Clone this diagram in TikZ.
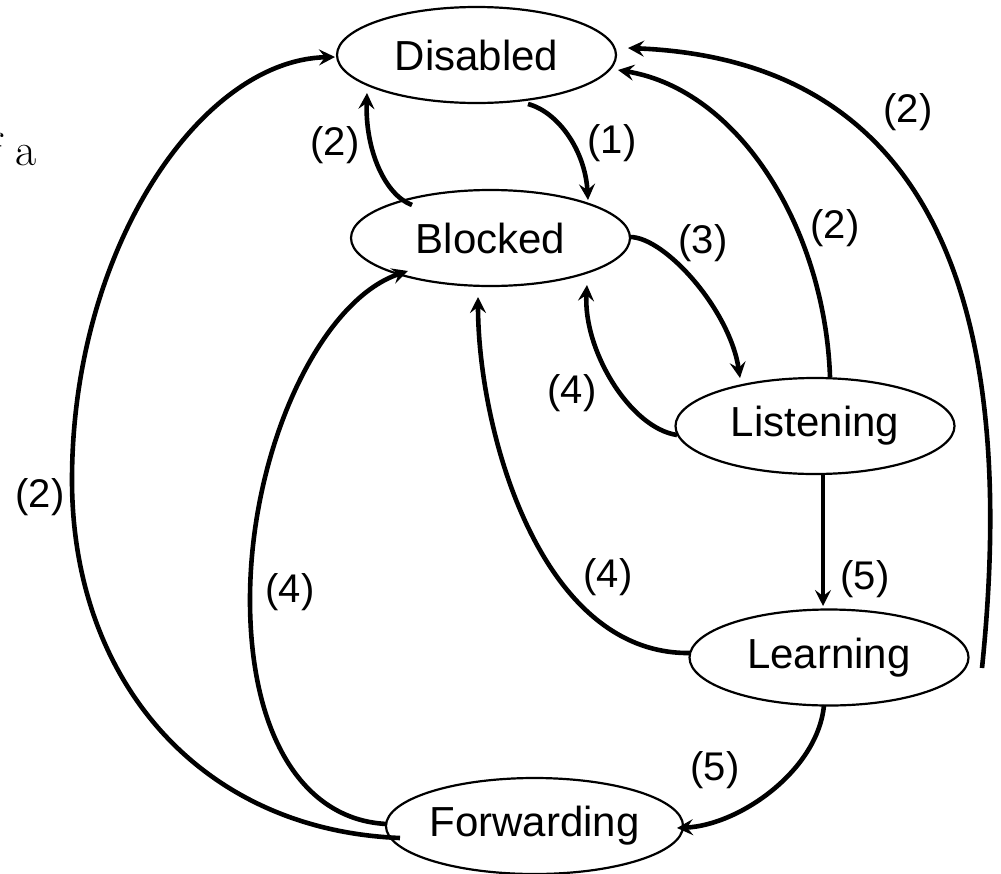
\documentclass[tikz,border=0pt]{standalone}
\usepackage{fontspec}
\newfontfamily\arial{Liberation Sans}
\usetikzlibrary{shapes.geometric,arrows.meta,calc}
\begin{document}
\begin{tikzpicture}[x=1pt,y=-1pt,
  state/.style={ellipse,draw,line width=2.2pt,minimum width=279pt,minimum height=96pt,
    inner sep=0pt,font=\arial\fontsize{42}{50}\selectfont},
  trans/.style={line width=4.6pt,-{Stealth[length=16pt,width=16pt,inset=6pt]}},
  lbl/.style={font=\arial\fontsize{40}{48}\selectfont,inner sep=0pt}]
\useasboundingbox (0,0) rectangle (1001,873);
\clip (0,0) rectangle (1001,873);

% running text at the left margin
\node[anchor=base east,inner sep=0pt,font=\fontsize{46}{55}\selectfont] (frag) at (37,165) {of a};

% port states
\node[state] (dis) at (476.5,55) {Disabled};
\node[state] (blk) at (490.5,238) {Blocked};
\node[state] (lis) at (815,426) {Listening};
\node[state] (lea) at (829,657.5) {Learning};
\node[state] (fwd) at (534.5,826) {Forwarding};

% transitions
\draw[trans] ($(dis)+(51.5,49)$) .. controls (558,112) and (585,150) .. ($(blk)+(97.5,-38)$);
\draw[trans] ($(blk)+(-78.5,-33)$) .. controls (385,195) and (365,150) .. ($(dis)+(-109.5,38)$);
\draw[trans] ($(blk)+(139.5,-1)$) .. controls (665,237) and (730,310) .. ($(lis)+(-75,-48)$);
\draw[trans] ($(lis)+(-138,9)$) .. controls (630,428) and (583,350) .. ($(blk)+(96.5,47)$);
\draw[trans] ($(lis)+(15,-49)$) .. controls (825,230) and (740,90) .. ($(dis)+(141.5,15)$);
\draw[trans] ($(lea)+(153,10.5)$) .. controls (1020,300) and (930,60) .. ($(dis)+(151.5,-7)$);
\draw[trans,line width=3.6pt] ($(lis)+(8,49)$) -- ($(lea)+(-6,-51.5)$);
\draw[trans] ($(lea)+(-139,-4.5)$) .. controls (540,655) and (478,430) .. ($(blk)+(-12.5,59)$);
\draw[trans] ($(lea)+(-5,47.5)$) .. controls (818,770) and (740,825) .. ($(fwd)+(142.5,2)$);
\draw[trans] ($(fwd)+(-134.5,12)$) .. controls (200,830) and (72,680) .. (72,480)
  .. controls (72,250) and (200,60) .. ($(dis)+(-141.5,2)$);
\draw[trans] ($(fwd)+(-147.5,-2)$) .. controls (300,820) and (250,730) .. (250,600)
  .. controls (250,450) and (320,300) .. ($(blk)+(-82.5,33)$);

% transition labels
\node[lbl] (t1) at (612,143) {(1)};
\node[lbl] (t2a) at (335,145) {(2)};
\node[lbl] (t2b) at (835,228) {(2)};
\node[lbl] (t2c) at (908,112) {(2)};
\node[lbl] (t2d) at (40,497) {(2)};
\node[lbl] (t3) at (703,243) {(3)};
\node[lbl] (t4a) at (572,393) {(4)};
\node[lbl] (t4b) at (608,577) {(4)};
\node[lbl] (t4c) at (290,592) {(4)};
\node[lbl] (t5a) at (865,579) {(5)};
\node[lbl] (t5b) at (715,770) {(5)};
\end{tikzpicture}
\end{document}
